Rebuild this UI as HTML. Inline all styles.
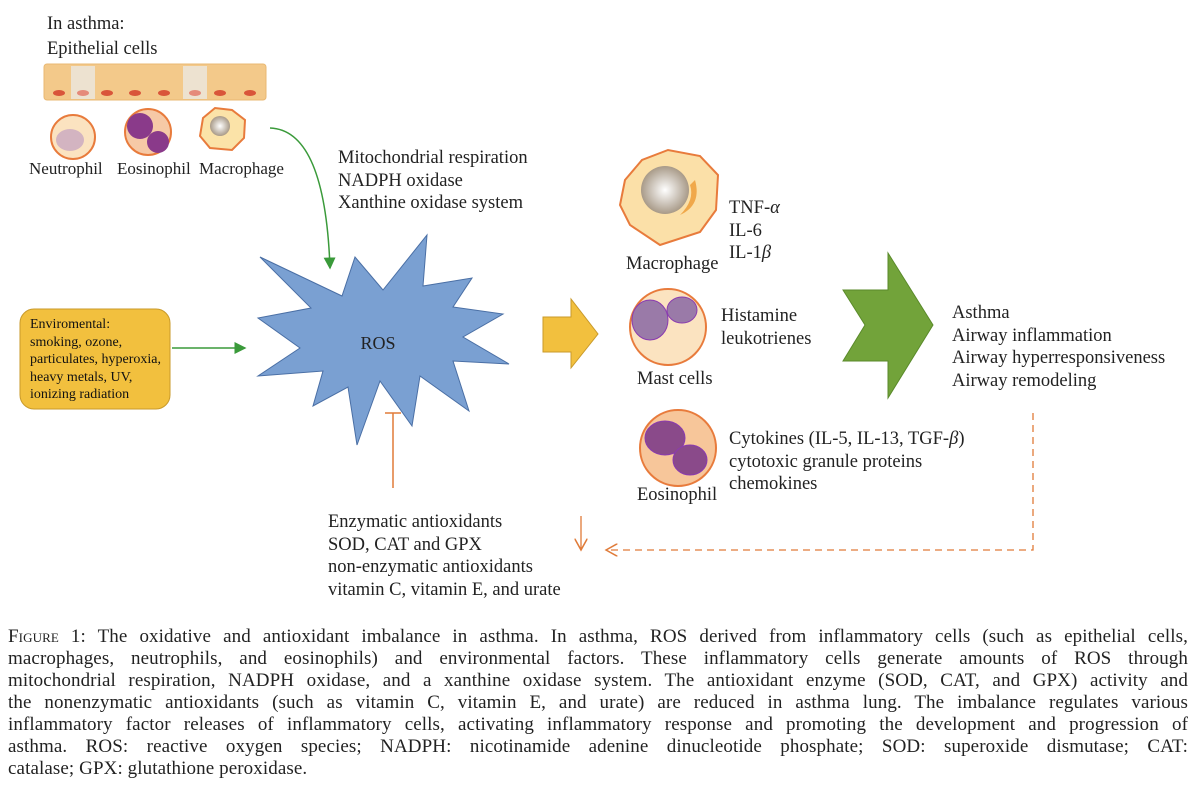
<!DOCTYPE html>
<html><head><meta charset="utf-8"><style>
body{margin:0;background:#fff;width:1200px;height:801px;overflow:hidden;font-family:"Liberation Serif",serif;color:#222;}
.t{position:absolute;font-size:18.5px;line-height:22.5px;white-space:nowrap;}
.cap{position:absolute;left:8px;top:626px;width:1180px;font-size:19px;line-height:22px;color:#222;letter-spacing:0.1px;}
.cap div{text-align:justify;text-align-last:justify;height:22px;white-space:nowrap;}
.cap div.l{text-align-last:left;}
.sc{font-variant:small-caps;}
</style></head><body>
<svg width="1200" height="801" style="position:absolute;left:0;top:0">
<defs>
<marker id="ga" markerWidth="8" markerHeight="8" refX="7" refY="4" orient="auto"><path d="M0,0L8,4L0,8z" fill="#3a9a3a"/></marker>
<marker id="oa" markerWidth="10" markerHeight="10" refX="9" refY="5" orient="auto"><path d="M0,0L9,5L0,10" fill="none" stroke="#e07b39" stroke-width="1.2"/></marker>
<radialGradient id="nuc"><stop offset="0" stop-color="#fff"/><stop offset="1" stop-color="#a89a88"/></radialGradient>
</defs>
<rect x="44" y="64" width="222" height="36" rx="3" fill="#f3c98a" stroke="#e9b873"/>
<rect x="71" y="66" width="24" height="33" fill="#ede2d0"/>
<rect x="183" y="66" width="24" height="33" fill="#ede2d0"/>
<g fill="#d9553a"><ellipse cx="59" cy="93" rx="6" ry="3"/><ellipse cx="83" cy="93" rx="6" ry="3" fill="#e58a7a"/><ellipse cx="107" cy="93" rx="6" ry="3"/><ellipse cx="135" cy="93" rx="6" ry="3"/><ellipse cx="164" cy="93" rx="6" ry="3"/><ellipse cx="195" cy="93" rx="6" ry="3" fill="#e58a7a"/><ellipse cx="220" cy="93" rx="6" ry="3"/><ellipse cx="250" cy="93" rx="6" ry="3"/></g>
<circle cx="73" cy="137" r="22" fill="#fbe3c0" stroke="#e87b3c" stroke-width="2"/>
<ellipse cx="70" cy="140" rx="14" ry="11" fill="#c9a8c0" opacity=".8"/>
<circle cx="148" cy="132" r="23" fill="#f6c9a6" stroke="#e87b3c" stroke-width="2"/>
<circle cx="140" cy="126" r="13" fill="#8a3a8a"/><circle cx="158" cy="142" r="11" fill="#8a3a8a"/>
<path d="M203,118 L215,108 L232,110 L245,120 L244,138 L232,150 L210,148 L200,136 Z" fill="#fbe3a8" stroke="#e87b3c" stroke-width="2"/>
<circle cx="220" cy="126" r="10" fill="url(#nuc)"/>
<path d="M625,180 L642,160 L668,150 L700,156 L718,175 L716,210 L700,232 L660,245 L630,225 L620,205 Z" fill="#fbe0a8" stroke="#e87b3c" stroke-width="2"/>
<circle cx="665" cy="190" r="24" fill="url(#nuc)"/>
<path d="M695,180 Q702,205 680,215 Q695,200 690,185Z" fill="#f0a84a"/>
<circle cx="668" cy="327" r="38" fill="#fbe3c0" stroke="#e87b3c" stroke-width="2"/>
<ellipse cx="650" cy="320" rx="18" ry="20" fill="#9a7aa8" stroke="#8a3ab0"/><ellipse cx="682" cy="310" rx="15" ry="13" fill="#9a7aa8" stroke="#8a3ab0"/>
<circle cx="678" cy="448" r="38" fill="#f7c69a" stroke="#e87b3c" stroke-width="2"/>
<ellipse cx="665" cy="438" rx="20" ry="17" fill="#8a4a8a" stroke="#8a3ab0"/><ellipse cx="690" cy="460" rx="17" ry="15" fill="#8a4a8a" stroke="#8a3ab0"/>
<path d="M270,128 Q325,130 330,268" fill="none" stroke="#3a9a3a" stroke-width="1.5" marker-end="url(#ga)"/>
<rect x="20" y="309" width="150" height="100" rx="14" fill="#f2c03e" stroke="#c99a2a"/>
<line x1="172" y1="348" x2="245" y2="348" stroke="#3a9a3a" stroke-width="1.5" marker-end="url(#ga)"/>
<polygon points="260,257 342,296 355,257 383,290 427,235 423,286 472,278 453,307 503,314 463,337 509,364 453,361 469,411 420,376 412,426 380,381 357,445 348,387 313,406 323,371 258,376 300,348 258,318 311,308" fill="#7aa0d2" stroke="#4a6fa5" stroke-width="1"/>
<text x="378" y="349" font-family="Liberation Serif" font-size="18" text-anchor="middle" fill="#222">ROS</text>
<polygon points="543,317 571,317 571,299 598,334 571,368 571,352 543,352" fill="#f2c03e" stroke="#c99a2a"/>
<polygon points="843,290 888,290 888,253 933,325 888,398 888,361 843,361 865,325" fill="#72a33a" stroke="#5a8a2a"/>
<line x1="393" y1="413" x2="393" y2="488" stroke="#e07b39" stroke-width="1.5"/>
<line x1="385" y1="413" x2="401" y2="413" stroke="#e07b39" stroke-width="1.5"/>
<line x1="581" y1="516" x2="581" y2="550" stroke="#e07b39" stroke-width="1.3" marker-end="url(#oa)"/>
<path d="M1033,413 L1033,550 L606,550" fill="none" stroke="#e07b39" stroke-width="1.3" stroke-dasharray="7,5" marker-end="url(#oa)"/>
</svg>
<div class="t" style="left:47px;top:13px">In asthma:</div>
<div class="t" style="left:47px;top:38px">Epithelial cells</div>
<div class="t" style="left:29px;top:158px;font-size:17px">Neutrophil</div>
<div class="t" style="left:117px;top:158px;font-size:17px">Eosinophil</div>
<div class="t" style="left:199px;top:158px;font-size:17px">Macrophage</div>
<div class="t" style="left:338px;top:147px">Mitochondrial respiration<br>NADPH oxidase<br>Xanthine oxidase system</div>
<div class="t" style="left:30px;top:316px;font-size:14px;line-height:17.5px;color:#111">Enviromental:<br>smoking, ozone,<br>particulates, hyperoxia,<br>heavy metals, UV,<br>ionizing radiation</div>
<div class="t" style="left:729px;top:197px">TNF-<i>α</i><br>IL-6<br>IL-1<i>β</i></div>
<div class="t" style="left:626px;top:253px">Macrophage</div>
<div class="t" style="left:721px;top:305px">Histamine<br>leukotrienes</div>
<div class="t" style="left:637px;top:368px">Mast cells</div>
<div class="t" style="left:952px;top:302px">Asthma<br>Airway inflammation<br>Airway hyperresponsiveness<br>Airway remodeling</div>
<div class="t" style="left:729px;top:428px">Cytokines (IL-5, IL-13, TGF-<i>β</i>)<br>cytotoxic granule proteins<br>chemokines</div>
<div class="t" style="left:637px;top:484px">Eosinophil</div>
<div class="t" style="left:328px;top:511px">Enzymatic antioxidants<br>SOD, CAT and GPX<br>non-enzymatic antioxidants<br>vitamin C, vitamin E, and urate</div>
<div class="cap">
<div><span class="sc">Figure</span> 1: The oxidative and antioxidant imbalance in asthma. In asthma, ROS derived from inflammatory cells (such as epithelial cells,</div>
<div>macrophages, neutrophils, and eosinophils) and environmental factors. These inflammatory cells generate amounts of ROS through</div>
<div>mitochondrial respiration, NADPH oxidase, and a xanthine oxidase system. The antioxidant enzyme (SOD, CAT, and GPX) activity and</div>
<div>the nonenzymatic antioxidants (such as vitamin C, vitamin E, and urate) are reduced in asthma lung. The imbalance regulates various</div>
<div>inflammatory factor releases of inflammatory cells, activating inflammatory response and promoting the development and progression of</div>
<div>asthma. ROS: reactive oxygen species; NADPH: nicotinamide adenine dinucleotide phosphate; SOD: superoxide dismutase; CAT:</div>
<div class="l">catalase; GPX: glutathione peroxidase.</div>
</div>
</body></html>
